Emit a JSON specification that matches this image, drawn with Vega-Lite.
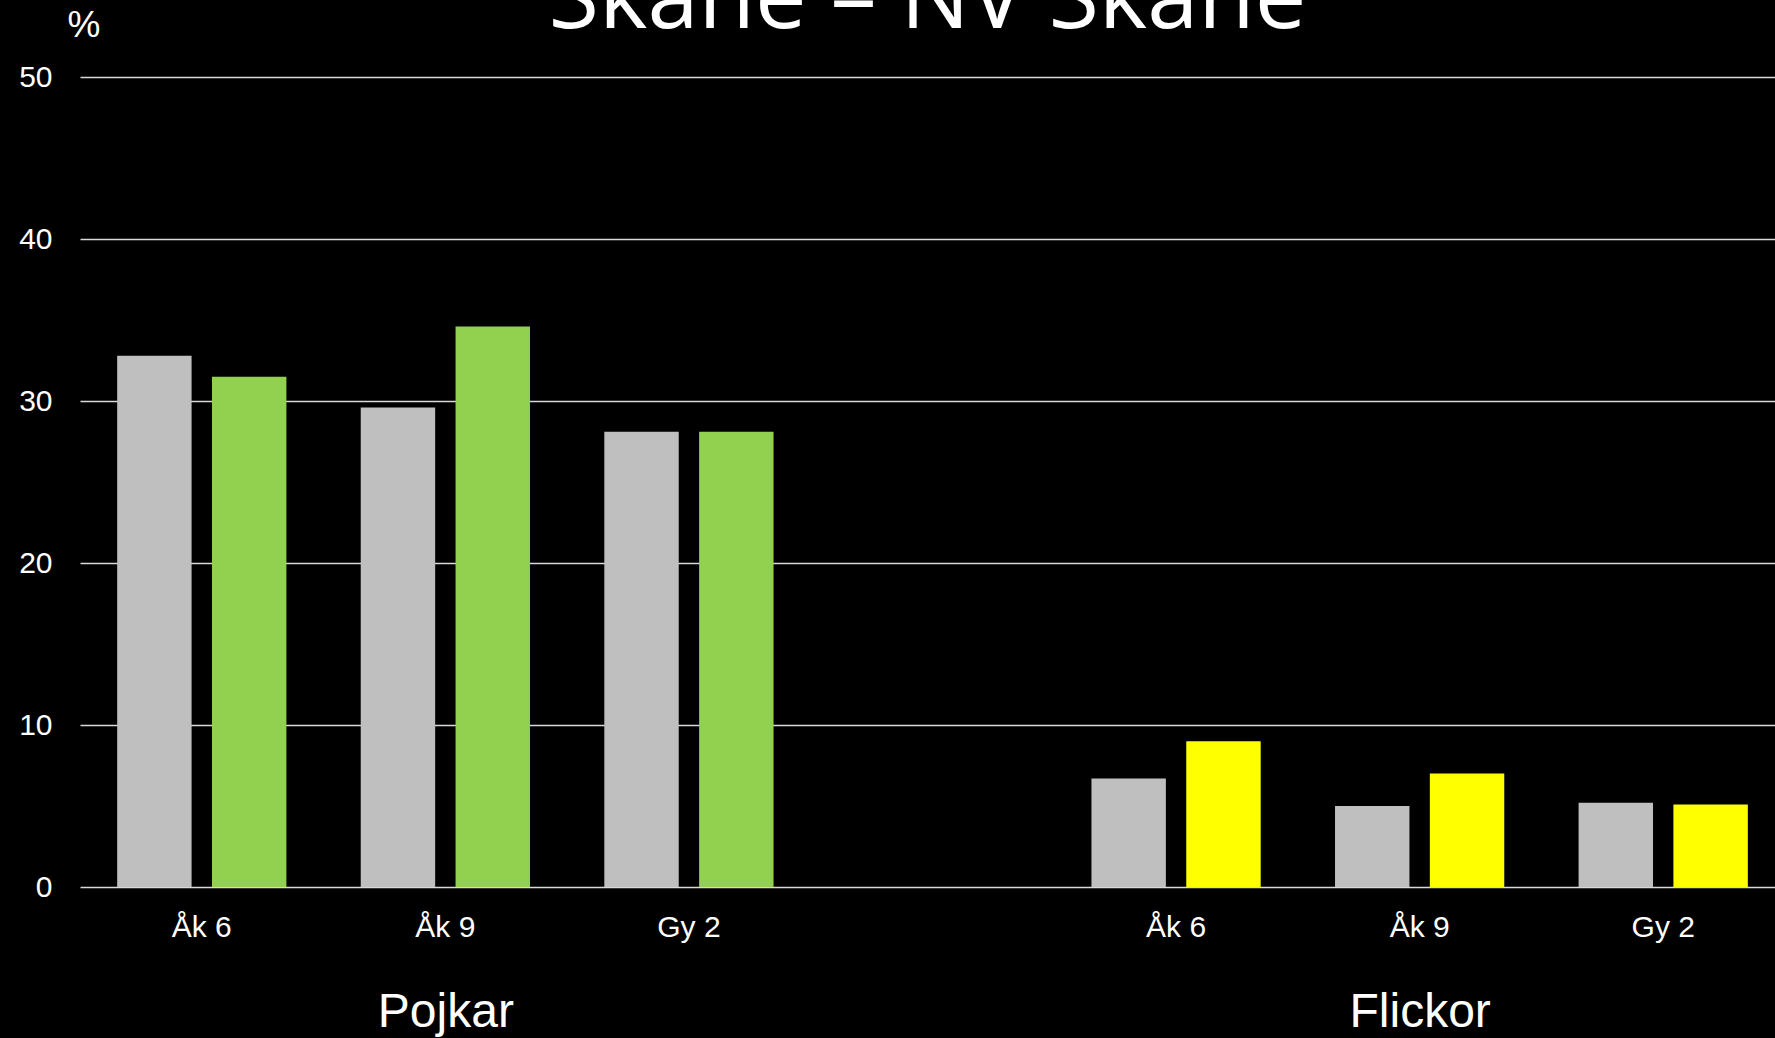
{
  "$schema": "https://vega.github.io/schema/vega-lite/v6.json",
  "autosize": {"type": "none"},
  "width": 1695,
  "height": 810,
  "padding": {"left": 80, "top": 77, "right": 0, "bottom": 151},
  "background": "#000000",
  "data": {
    "values": [
      {"kon": "Pojkar", "grupp": "Pojkar Åk 6", "serie": "Skåne", "kategori": "Skåne", "varde": 32.8},
      {"kon": "Pojkar", "grupp": "Pojkar Åk 6", "serie": "NV Skåne", "kategori": "NV Skåne pojkar", "varde": 31.5},
      {"kon": "Pojkar", "grupp": "Pojkar Åk 9", "serie": "Skåne", "kategori": "Skåne", "varde": 29.6},
      {"kon": "Pojkar", "grupp": "Pojkar Åk 9", "serie": "NV Skåne", "kategori": "NV Skåne pojkar", "varde": 34.6},
      {"kon": "Pojkar", "grupp": "Pojkar Gy 2", "serie": "Skåne", "kategori": "Skåne", "varde": 28.1},
      {"kon": "Pojkar", "grupp": "Pojkar Gy 2", "serie": "NV Skåne", "kategori": "NV Skåne pojkar", "varde": 28.1},
      {"kon": "Flickor", "grupp": "Flickor Åk 6", "serie": "Skåne", "kategori": "Skåne", "varde": 6.7},
      {"kon": "Flickor", "grupp": "Flickor Åk 6", "serie": "NV Skåne", "kategori": "NV Skåne flickor", "varde": 9.0},
      {"kon": "Flickor", "grupp": "Flickor Åk 9", "serie": "Skåne", "kategori": "Skåne", "varde": 5.0},
      {"kon": "Flickor", "grupp": "Flickor Åk 9", "serie": "NV Skåne", "kategori": "NV Skåne flickor", "varde": 7.0},
      {"kon": "Flickor", "grupp": "Flickor Gy 2", "serie": "Skåne", "kategori": "Skåne", "varde": 5.2},
      {"kon": "Flickor", "grupp": "Flickor Gy 2", "serie": "NV Skåne", "kategori": "NV Skåne flickor", "varde": 5.1}
    ]
  },
  "config": {
    "view": {"stroke": null},
    "axis": {
      "labelFont": "Liberation Sans",
      "titleFont": "Liberation Sans",
      "labelColor": "#FFFFFF",
      "titleColor": "#FFFFFF"
    }
  },
  "encoding": {
    "y": {
      "field": "varde",
      "type": "quantitative",
      "scale": {"domain": [0, 50], "nice": false},
      "axis": {
        "values": [0, 10, 20, 30, 40, 50],
        "title": "%",
        "titleAngle": 0,
        "titleAlign": "left",
        "titleBaseline": "alphabetic",
        "titleX": -13,
        "titleY": -41,
        "titleFontSize": 37,
        "titleFontWeight": "normal",
        "labelFontSize": 30,
        "labelPadding": 28,
        "domain": false,
        "ticks": false,
        "grid": true,
        "gridColor": "#D9D9D9",
        "gridWidth": 1.6
      }
    }
  },
  "layer": [
    {
      "mark": {"type": "bar"},
      "encoding": {
        "x": {
          "field": "grupp",
          "type": "nominal",
          "scale": {
            "type": "band",
            "domain": ["Pojkar Åk 6", "Pojkar Åk 9", "Pojkar Gy 2", "mellanrum", "Flickor Åk 6", "Flickor Åk 9", "Flickor Gy 2"],
            "range": [0, 1705],
            "paddingInner": 0,
            "paddingOuter": 0
          },
          "axis": {
            "title": "Skåne – NV Skåne",
            "titleFont": "Open Sans",
            "titleFontSize": 92,
            "titleFontWeight": "normal",
            "titleAlign": "center",
            "titleAnchor": null,
            "titleBaseline": "alphabetic",
            "titleX": 847,
            "titleY": -860,
            "labelExpr": "datum.value == 'mellanrum' ? '' : slice(datum.value, indexof(datum.value, ' ') + 1)",
            "labelFontSize": 30,
            "labelAngle": 0,
            "labelBaseline": "alphabetic",
            "labelPadding": 49,
            "domain": false,
            "ticks": false,
            "grid": false
          }
        },
        "xOffset": {
          "field": "serie",
          "type": "nominal",
          "scale": {"domain": ["Skåne", "NV Skåne"], "paddingInner": 0.215, "paddingOuter": 0.392}
        },
        "color": {
          "field": "kategori",
          "type": "nominal",
          "scale": {
            "domain": ["Skåne", "NV Skåne pojkar", "NV Skåne flickor"],
            "range": ["#BFBFBF", "#92D050", "#FFFF00"]
          },
          "legend": null
        }
      }
    },
    {
      "mark": {"type": "point", "opacity": 0},
      "encoding": {
        "x": {
          "field": "kon",
          "type": "nominal",
          "scale": {
            "type": "point",
            "domain": ["Pojkar", "Flickor"],
            "range": [0, 1705],
            "padding": 0.375
          },
          "axis": {
            "title": null,
            "orient": "bottom",
            "labelFontSize": 48,
            "labelAngle": 0,
            "labelBaseline": "alphabetic",
            "labelPadding": 139,
            "domain": false,
            "ticks": false,
            "grid": false
          }
        }
      }
    }
  ],
  "resolve": {"scale": {"x": "independent", "xOffset": "independent"}, "axis": {"x": "independent"}}
}
